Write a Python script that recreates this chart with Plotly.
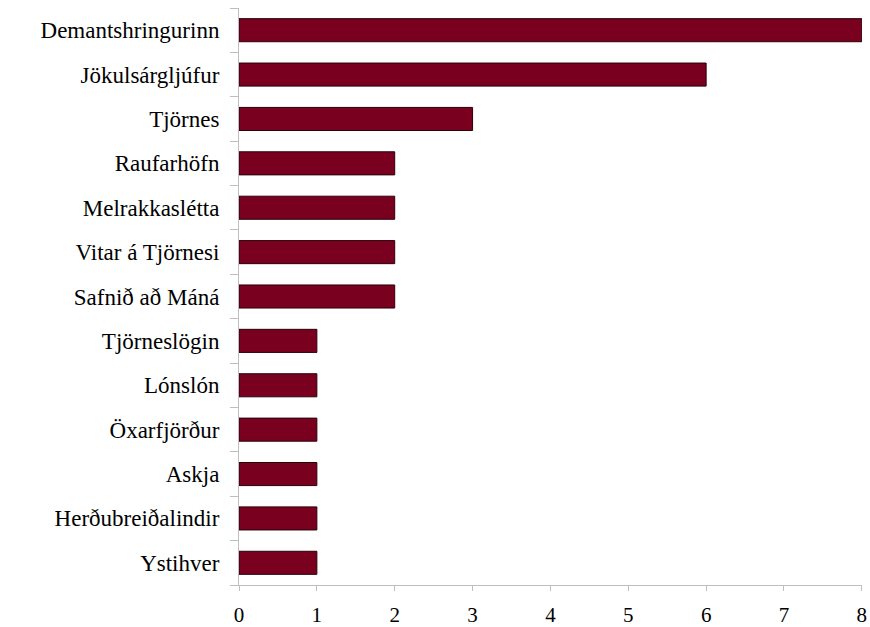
import plotly.graph_objects as go

# Data (top to bottom as shown)
places = ['Demantshringurinn', 'Jökulsárgljúfur', 'Tjörnes', 'Raufarhöfn',
          'Melrakkaslétta', 'Vitar á Tjörnesi', 'Safnið að Máná', 'Tjörneslögin',
          'Lónslón', 'Öxarfjörður', 'Askja', 'Herðubreiðalindir', 'Ystihver']
counts = [8, 6, 3, 2, 2, 2, 2, 1, 1, 1, 1, 1, 1]
x_ticks = [0, 1, 2, 3, 4, 5, 6, 7, 8]

serif = 'Liberation Serif, Times New Roman, serif'

fig = go.Figure()

fig.add_trace(
    go.Bar(
        x=counts[::-1],
        y=places[::-1],
        orientation='h',
        marker=dict(color='#7a0020', line=dict(color='#2a0008', width=1)),
    )
)

fig.update_layout(
    width=870,
    height=627,
    margin=dict(l=239, r=8, t=8, b=42, autoexpand=False),
    plot_bgcolor='white',
    paper_bgcolor='white',
    bargap=0.48,
    showlegend=False,
    font=dict(family=serif, size=22, color='#000000'),
)

fig.update_xaxes(
    range=[0, 8.002],
    tickvals=x_ticks,
    showgrid=False,
    zeroline=False,
    showline=True,
    linecolor='#bfbfbf',
    linewidth=1,
    ticks='outside',
    ticklen=5,
    tickcolor='#bfbfbf',
    ticklabelstandoff=6,
    tickfont=dict(family=serif, size=21),
    automargin=False,
)

fig.update_yaxes(
    showgrid=False,
    showline=True,
    linecolor='#bfbfbf',
    linewidth=1,
    ticks='outside',
    tickson='boundaries',
    ticklen=8,
    tickcolor='#bfbfbf',
    ticklabelstandoff=14,
    tickfont=dict(family=serif, size=23),
    automargin=False,
)

# drop the default page margin so the figure sits at the top-left corner
fig.write_html(
    "out.html",
    config={'displayModeBar': False},
    post_script="document.body.style.margin='0';document.body.style.overflow='hidden';",
)
